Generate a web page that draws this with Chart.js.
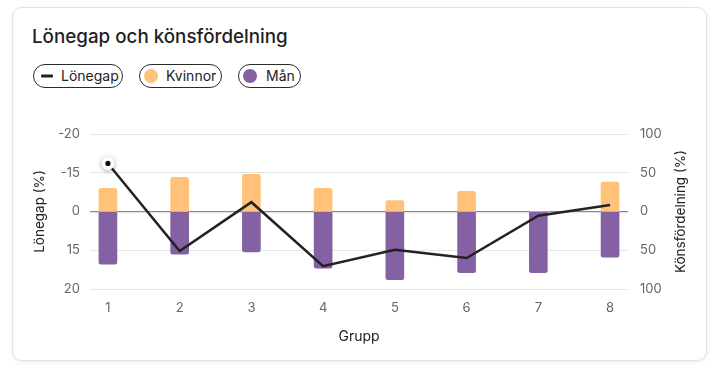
<!DOCTYPE html>
<html>
<head>
<meta charset="utf-8">
<script src="https://cdn.jsdelivr.net/npm/chart.js@4.4.1/dist/chart.umd.min.js"></script>
<style>
  html, body { margin: 0; padding: 0; background: #ffffff; width: 720px; height: 379px; overflow: hidden; font-family: Inter, "Noto Sans", sans-serif; }
  .card { position: absolute; left: 12px; top: 7px; width: 693px; height: 352px; border: 1px solid #e2e2e2; border-radius: 10px; background: #fff; box-shadow: 0 1px 4px rgba(0,0,0,0.08); }
  .title { position: absolute; left: 32px; top: 25px; font-size: 18.8px; line-height: 24px; font-weight: 500; color: #1f1f1f; white-space: nowrap; }
  .pill { position: absolute; top: 64px; height: 22px; border: 1.5px solid #2a2a2a; border-radius: 13px; box-sizing: content-box; font-size: 14px; color: #222; line-height: 22px; white-space: nowrap; }
  .pill .mk { position: absolute; top: 50%; transform: translateY(-50%); }
  .pill .tx { position: absolute; top: 0; }
  canvas#c { position: absolute; left: 0; top: 0; }
</style>
</head>
<body>
<div class="card"></div>
<div class="title">Lönegap och könsfördelning</div>
<div id="legend"></div>
<canvas id="c" width="720" height="379"></canvas>
<script>
// ---- data ----
const groups = [1, 2, 3, 4, 5, 6, 7, 8];
const lonegap = [-12.4, 10.2, -2.4, 14.1, 9.9, 12.0, 1.1, -1.7];
const kvinnor = [30, 44, 48, 30, 14, 26, 0, 38];
const man = [-68, -55, -52, -73, -88, -79, -79, -59];
const leftTickValues = [-20, -10, 0, 10, 20];
const leftTickLabels = ['-20', '-15', '0', '15', '20'];
const rightTickValues = [-100, -50, 0, 50, 100];
const legendLabels = ['Lönegap', 'Kvinnor', 'Mån'];
const axisTitles = {x: 'Grupp', left: 'Lönegap (%)', right: 'Könsfördelning (%)'};

const ORANGE = '#FFC278';
const PURPLE = '#8461A2';
const LINE = '#222222';

// ---- HTML legend ----
const legendEl = document.getElementById('legend');
const pillGeo = [
  {left: 33, width: 88, textLeft: 27},
  {left: 139, width: 81, textLeft: 26},
  {left: 238, width: 61, textLeft: 27}
];
legendLabels.forEach((lab, i) => {
  const p = document.createElement('div');
  p.className = 'pill';
  p.style.left = pillGeo[i].left + 'px';
  p.style.width = pillGeo[i].width + 'px';
  const mk = document.createElement('div');
  mk.className = 'mk';
  if (i === 0) {
    mk.style.left = '7px'; mk.style.width = '12px'; mk.style.height = '3px'; mk.style.background = LINE; mk.style.borderRadius = '1px';
  } else {
    mk.style.left = '4px'; mk.style.width = '14px'; mk.style.height = '14px'; mk.style.borderRadius = '50%';
    mk.style.background = i === 1 ? ORANGE : PURPLE;
  }
  const tx = document.createElement('div');
  tx.className = 'tx';
  tx.style.left = pillGeo[i].textLeft + 'px';
  tx.textContent = lab;
  p.appendChild(mk); p.appendChild(tx);
  legendEl.appendChild(p);
});

// ---- chart ----
const toXY = (arr) => groups.map((g, i) => ({x: g, y: arr[i]}));
const titleFont = {family: 'Inter', size: 13.5};
const tickFont = {family: 'Inter', size: 13};

const extras = {
  id: 'extras',
  afterDatasetsDraw(chart) {
    const ctx = chart.ctx;
    // active-looking first point of the line
    const el = chart.getDatasetMeta(0).data[0];
    if (el) {
      ctx.save();
      ctx.shadowColor = 'rgba(0,0,0,0.35)';
      ctx.shadowBlur = 5;
      ctx.shadowOffsetY = 1;
      ctx.beginPath();
      ctx.arc(el.x, el.y, 6.5, 0, Math.PI * 2);
      ctx.fillStyle = '#ffffff';
      ctx.fill();
      ctx.restore();
      ctx.save();
      ctx.beginPath();
      ctx.arc(el.x, el.y, 2.6, 0, Math.PI * 2);
      ctx.fillStyle = '#111';
      ctx.fill();
      ctx.restore();
    }
    // right axis title, reading bottom to top
    const s = chart.scales.y2;
    ctx.save();
    ctx.translate(681, (s.top + s.bottom) / 2);
    ctx.rotate(-Math.PI / 2);
    ctx.font = '13.5px Inter';
    ctx.fillStyle = '#222';
    ctx.textAlign = 'center';
    ctx.textBaseline = 'middle';
    ctx.fillText(axisTitles.right, 0, 0);
    ctx.restore();
  }
};

new Chart(document.getElementById('c'), {
  data: {
    datasets: [
      {
        type: 'line', label: legendLabels[0], data: toXY(lonegap), yAxisID: 'y',
        borderColor: LINE, borderWidth: 2.5, pointRadius: 0, tension: 0, order: 0
      },
      {
        type: 'bar', label: legendLabels[1], data: toXY(kvinnor), yAxisID: 'y2',
        backgroundColor: ORANGE, barThickness: 18, borderRadius: 2.5, borderSkipped: 'start', stack: 's', order: 1
      },
      {
        type: 'bar', label: legendLabels[2], data: toXY(man), yAxisID: 'y2',
        backgroundColor: PURPLE, barThickness: 18, borderRadius: 2.5, borderSkipped: 'start', stack: 's', order: 1
      }
    ]
  },
  options: {
    responsive: false,
    animation: false,
    events: [],
    layout: {padding: {top: 134, left: 0, right: 0, bottom: 0}},
    plugins: {legend: {display: false}, tooltip: {enabled: false}},
    scales: {
      x: {
        type: 'linear', min: 0.75, max: 8.25, stacked: true, offset: false,
        grid: {display: false, drawTicks: false, offset: false},
        border: {display: false},
        afterBuildTicks: (s) => { s.ticks = groups.map(v => ({value: v})); },
        afterFit: (s) => { s.height = 90; },
        ticks: {font: tickFont, color: '#666', padding: 11, callback: (v) => String(v)},
        title: {display: true, text: axisTitles.x, font: {family: 'Inter', size: 14}, color: '#222', padding: {top: 0, bottom: 34}}
      },
      y: {
        type: 'linear', position: 'left', reverse: true, min: -20, max: 20,
        afterBuildTicks: (s) => { s.ticks = leftTickValues.map(v => ({value: v})); },
        afterFit: (s) => { s.width = 90; },
        grid: {drawTicks: false, color: (c) => c.tick && c.tick.value === 0 ? '#8a8a8a' : '#e6e6e6', lineWidth: (c) => c.tick && c.tick.value === 0 ? 1.2 : 1},
        border: {display: false},
        ticks: {font: tickFont, color: '#666', padding: 10, callback: (v) => leftTickLabels[leftTickValues.indexOf(v)]},
        title: {display: true, text: axisTitles.left, font: titleFont, color: '#222', padding: {top: 32, bottom: 0}}
      },
      y2: {
        type: 'linear', position: 'right', min: -100, max: 100, stacked: true,
        afterBuildTicks: (s) => { s.ticks = rightTickValues.map(v => ({value: v})); },
        afterFit: (s) => { s.width = 92; },
        grid: {display: false, drawTicks: false},
        border: {display: false},
        ticks: {font: tickFont, color: '#666', padding: 12, callback: (v) => String(Math.abs(v))},
        title: {display: false}
      }
    }
  },
  plugins: [extras]
});
</script>
</body>
</html>
